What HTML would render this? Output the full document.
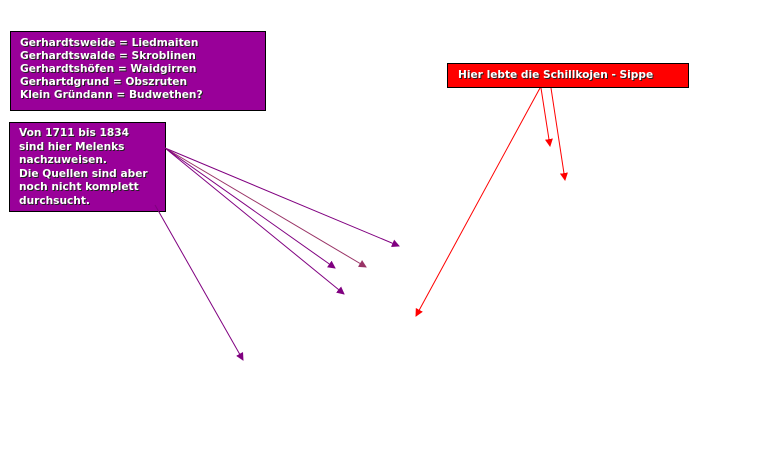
<!DOCTYPE html>
<html><head><meta charset="utf-8"><style>
body{margin:0;width:767px;height:456px;background:#fff;position:relative;overflow:hidden;font-family:"DejaVu Sans","Liberation Sans",sans-serif}
.b{position:absolute;box-sizing:border-box;border:1px solid #000;color:#fff;font-size:10.6px;font-weight:bold;line-height:13px;text-shadow:1px 1px 0 #222}
</style></head><body>
<div class="b" style="left:10px;top:31px;width:256px;height:80px;background:#990099;padding:5px 9px">Gerhardtsweide = Liedmaiten<br>Gerhardtswalde = Skroblinen<br>Gerhardtshöfen = Waidgirren<br>Gerhartdgrund = Obszruten<br>Klein Gründann = Budwethen?</div>
<div class="b" style="left:9px;top:122px;width:157px;height:90px;background:#990099;padding:4px 9px;line-height:13.6px">Von 1711 bis 1834<br>sind hier Melenks<br>nachzuweisen.<br>Die Quellen sind aber<br>noch nicht komplett<br>durchsucht.</div>
<div class="b" style="left:447px;top:63px;width:242px;height:25px;background:#ff0000;padding:5px 10px">Hier lebte die Schillkojen - Sippe</div>
<svg width="767" height="456" style="position:absolute;left:0;top:0">
<defs>
<marker id="p" markerWidth="8" markerHeight="8" refX="7" refY="4" orient="auto" markerUnits="userSpaceOnUse"><path d="M0,0L8,4L0,8z" fill="#800080"/></marker>
<marker id="q" markerWidth="8" markerHeight="8" refX="7" refY="4" orient="auto" markerUnits="userSpaceOnUse"><path d="M0,0L8,4L0,8z" fill="#993366"/></marker>
<marker id="r" markerWidth="8" markerHeight="8" refX="7" refY="4" orient="auto" markerUnits="userSpaceOnUse"><path d="M0,0L8,4L0,8z" fill="#f00"/></marker>
</defs>
<g stroke="#800080" stroke-width="1" fill="none">
<line x1="165" y1="148" x2="399" y2="246" marker-end="url(#p)"/>
<line x1="165" y1="148" x2="366" y2="267" stroke="#993366" marker-end="url(#q)"/>
<line x1="165" y1="148" x2="335" y2="268" marker-end="url(#p)"/>
<line x1="165" y1="148" x2="344" y2="294" marker-end="url(#p)"/>
<line x1="155" y1="205" x2="243" y2="360" marker-end="url(#p)"/>
</g>
<g stroke="#f00" stroke-width="1">
<line x1="540" y1="88" x2="416" y2="316" marker-end="url(#r)"/>
<line x1="541" y1="88" x2="550" y2="146" marker-end="url(#r)"/>
<line x1="551" y1="88" x2="565" y2="180" marker-end="url(#r)"/>
</g>
</svg>
</body></html>
